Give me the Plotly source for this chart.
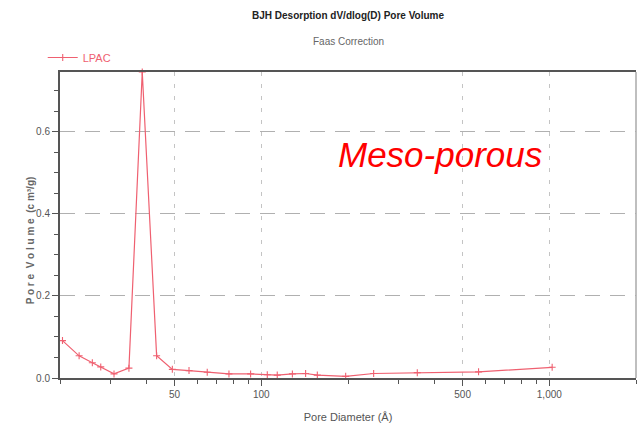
import plotly.graph_objects as go

pore_diameter = [20.4, 23.3, 25.9, 27.7, 30.8, 34.7, 38.6, 43.3, 49.1, 56.1, 64.9, 77.2,
                 91.8, 104.9, 113.6, 128.2, 142.5, 156.5, 196.3, 245.5, 348, 568, 1023]
pore_volume = [0.091, 0.054, 0.037, 0.027, 0.010, 0.024, 0.745, 0.054, 0.021, 0.018, 0.014,
               0.010, 0.010, 0.008, 0.007, 0.010, 0.011, 0.007, 0.004, 0.011, 0.013, 0.015, 0.026]

x_tickvals = [50, 100, 500, 1000]
x_ticktext = ["50", "100", "500", "1,000"]
x_minor = [20, 30, 40, 60, 70, 80, 90, 200, 300, 400, 600, 700, 800, 900, 2000]
y_tickvals = [0.0, 0.2, 0.4, 0.6]
y_ticktext = ["0.0", "0.2", "0.4", "0.6"]

FONT = "Liberation Sans Narrow, Liberation Sans, Arial, sans-serif"
RED = "#ef6070"

fig = go.Figure()
fig.add_trace(go.Scatter(
    x=pore_diameter, y=pore_volume, mode="lines+markers", name="LPAC",
    line=dict(color=RED, width=1.2),
    marker=dict(symbol="cross-thin", size=5, line=dict(color=RED, width=1.1), color=RED),
    cliponaxis=False,
))

fig.update_layout(
    width=640, height=427,
    margin=dict(l=60, r=4, t=72, b=49),
    paper_bgcolor="white", plot_bgcolor="white",
    font=dict(family=FONT, size=10, color="#555555"),
    showlegend=True,
    legend=dict(x=-0.03, y=1.0, xanchor="left", yanchor="bottom", bgcolor="rgba(0,0,0,0)",
                font=dict(color=RED, size=11, family=FONT), itemwidth=30,
                tracegroupgap=0),
    xaxis=dict(
        type="log", range=[1.301, 3.301],
        tickvals=x_tickvals, ticktext=x_ticktext,
        ticks="outside", ticklen=6, tickcolor="#555555",
        showline=True, linecolor="#555555", linewidth=2, mirror=True,
        showgrid=True, gridcolor="#c4c4c4", griddash="4px,8px", gridwidth=1,
        zeroline=False,
        tickfont=dict(size=10, color="#555555"),
        title=dict(text="Pore Diameter (Å)", font=dict(size=11, color="#555555"), standoff=14),
        minor=dict(tickvals=x_minor, ticks="outside", ticklen=4, tickcolor="#555555", showgrid=False),
    ),
    yaxis=dict(
        range=[0, 0.745],
        tickvals=y_tickvals, ticktext=y_ticktext,
        ticks="outside", ticklen=6, tickcolor="#555555",
        showline=True, linecolor="#555555", linewidth=2,
        showgrid=True, gridcolor="#b0b0b0", griddash="15px,10px", gridwidth=1,
        zeroline=False,
        tickfont=dict(size=10, color="#555555"),
        minor=dict(dtick=0.05, ticks="outside", ticklen=4, tickcolor="#555555", showgrid=False),
    ),
    shapes=[dict(type="line", xref="paper", yref="paper", x0=1, x1=1, y0=0, y1=1,
                 line=dict(color="#aaaaaa", width=1.5))],
    annotations=[
        dict(text="<b>BJH Desorption dV/dlog(D) Pore Volume</b>", xref="paper", yref="paper",
             x=0.5, y=1.0, yshift=57, showarrow=False, xanchor="center", yanchor="middle",
             font=dict(size=10, color="#222222", family=FONT)),
        dict(text="Faas Correction", xref="paper", yref="paper",
             x=0.5, y=1.0, yshift=31, showarrow=False, xanchor="center", yanchor="middle",
             font=dict(size=10, color="#666666", family=FONT)),
        dict(text="<b>P o r e  V o l u m e  (c m³/g)</b>", xref="paper", yref="paper",
             x=0, xshift=-30, y=0.45, textangle=-90, showarrow=False,
             xanchor="center", yanchor="middle",
             font=dict(size=10, color="#666666", family=FONT)),
        dict(text="<i>Meso-porous</i>", xref="paper", yref="paper",
             x=0.66, y=0.73, showarrow=False, xanchor="center", yanchor="middle",
             font=dict(size=35, color="#ff0000", family="Liberation Sans, Arial, sans-serif")),
    ],
)

fig.write_html("out.html")
